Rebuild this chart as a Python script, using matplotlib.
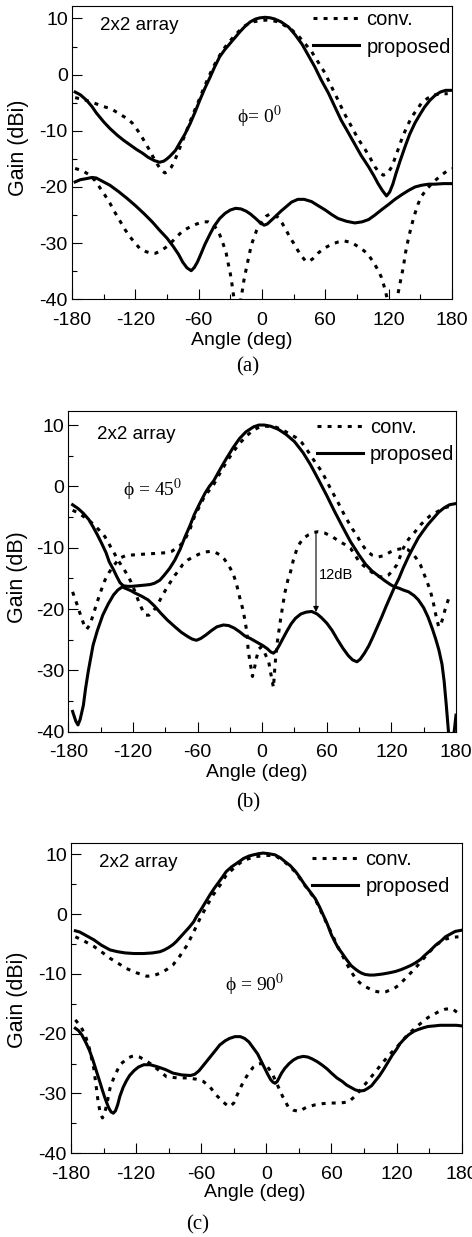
import numpy as np
import matplotlib.pyplot as plt
from matplotlib.ticker import MultipleLocator

plt.rcParams['font.family'] = ['Liberation Sans', 'DejaVu Sans']
plt.rcParams['mathtext.fontset'] = 'stix'
plt.rcParams['axes.unicode_minus'] = False

# ---------------- (a) phi = 0 ----------------
a_co_prop_ang = [-177, -172, -166, -161, -157, -150, -144, -137, -131, -125, -119, -113, -108, -102, -97, -93, -90, -87,
                 -82, -78, -73, -68, -63, -59, -54, -49, -45, -40, -35, -30, -25, -21, -16, -11, -6, -2, 3, 8, 12,
                 18, 25, 31, 38, 44, 50, 56, 63, 69, 75, 82, 88, 94, 101, 106, 110, 114, 118, 121, 124, 127,
                 131, 136, 140, 145, 150, 154, 159, 164, 169, 174, 180]
a_co_prop = [-3.1, -3.6, -4.6, -5.7, -6.8, -8.4, -9.6, -10.8, -11.7, -12.5, -13.3, -14.0, -14.7, -15.3, -15.6, -15.4, -15.0, -14.5,
             -13.5, -12.2, -10.6, -8.7, -6.5, -4.6, -2.4, -0.4, 1.3, 3.2, 4.5, 5.6, 6.7, 7.6, 8.6, 9.4, 9.9, 10.1, 10.2, 10.1, 9.9,
             9.4, 8.5, 7.2, 5.4, 3.4, 1.4, -0.9, -3.3, -5.7, -8.1, -10.4, -12.4, -14.4, -16.4, -18.0, -19.4, -20.6, -21.6, -20.9, -19.5, -17.6,
             -15.3, -12.6, -10.6, -8.6, -7.0, -5.8, -4.6, -3.7, -3.1, -2.8, -2.8]

a_co_conv_ang = [-177, -170, -163, -157, -152, -146, -141, -135, -128, -123, -119, -115, -111, -107, -103, -99, -95, -92,
                 -89, -86, -84, -80, -75, -70, -65, -60, -56, -51, -46, -41, -37, -32, -27, -22, -18, -13, -8, -2,
                 4, 10, 15, 21, 28, 34, 40, 47, 53, 60, 66, 72, 78, 85, 91, 98, 103, 107, 111, 115, 119, 123,
                 127, 132, 137, 142, 147, 151, 157, 164, 170, 176]
a_co_conv = [-4.1, -4.4, -4.8, -5.2, -5.6, -5.9, -6.3, -7.0, -7.8, -8.6, -9.6, -10.7, -12.0, -13.3, -14.7, -16.0, -17.1, -17.5,
             -17.2, -16.5, -15.8, -14.1, -11.7, -9.3, -6.9, -4.7, -2.8, -0.6, 1.4, 3.1, 4.4, 5.6, 6.7, 7.7, 8.5, 9.0, 9.4, 9.6,
             9.7, 9.6, 9.4, 8.8, 8.0, 7.0, 5.7, 4.1, 2.3, 0.2, -2.2, -4.5, -6.9, -9.3, -11.4, -13.4, -15.0, -16.4, -17.4, -17.9, -17.6, -16.4,
             -14.4, -11.7, -9.4, -7.5, -6.2, -5.1, -4.2, -3.6, -3.4, -3.4]

a_x_prop_ang = [-177, -172, -166, -161, -157, -151, -144, -136, -128, -120, -112, -104, -97, -90, -84, -79, -75, -71,
                -67, -64, -61, -58, -54, -49, -45, -40, -35, -30, -25, -20, -15, -11, -6, -2, 2, 5, 9, 13, 18,
                23, 28, 34, 40, 47, 53, 60, 66, 72, 80, 88, 95, 101, 107, 113, 120, 126, 133, 139, 145, 151,
                158, 164, 172, 180]
a_x_prop = [-19.1, -18.7, -18.5, -18.3, -18.4, -19.0, -19.7, -20.8, -22.0, -23.3, -24.7, -26.2, -27.7, -29.1, -30.6, -32.0, -33.4, -34.4,
            -34.9, -34.3, -33.3, -32.0, -30.2, -28.3, -26.9, -25.6, -24.7, -24.1, -23.8, -23.9, -24.3, -24.8, -25.6, -26.3, -26.8, -26.6, -25.9, -25.2, -24.3,
            -23.5, -22.7, -22.2, -22.2, -22.6, -23.3, -24.1, -24.9, -25.6, -26.1, -26.4, -26.2, -25.8, -25.0, -24.1, -23.1, -22.2, -21.3, -20.6, -20.0, -19.7,
            -19.5, -19.5, -19.4, -19.4]

a_x_conv_ang = [-177, -170, -163, -158, -154, -149, -144, -140, -135, -130, -125, -120, -116, -110, -105, -101, -96, -90,
                -85, -81, -76, -71, -65, -59, -55, -51, -47, -43, -40, -37, -34, -32, -30, -28.5, -26, -23, -20.5, -19,
                -17, -14.5, -12, -10, -7, -5, -2, 1, 4, 7.5, 11, 15, 19, 23, 26, 30, 34, 38, 41, 44, 48, 53,
                59, 66, 72, 78, 85, 91, 97, 102, 106, 110, 113, 115, 117, 118.5, 123, 127.5, 129, 131.5, 134, 136,
                138.5, 141.5, 145, 148, 151, 156, 161, 165, 170, 175, 180]
a_x_conv = [-16.7, -17.1, -17.9, -18.9, -20.0, -21.4, -22.9, -24.3, -25.9, -27.5, -28.9, -30.0, -30.9, -31.5, -31.8, -31.8, -31.4, -30.6,
            -29.7, -28.9, -28.0, -27.4, -26.8, -26.4, -26.2, -26.2, -26.6, -27.4, -28.5, -30.0, -31.7, -33.6, -35.4, -37.2, -40.5, -45.0, -40.5, -38.9,
            -36.5, -34.2, -32.0, -30.3, -28.7, -27.7, -26.7, -25.9, -25.2, -24.8, -25.0, -25.4, -26.4, -27.7, -28.8, -30.0, -31.3, -32.4, -33.1, -33.3, -32.8, -31.8,
            -30.9, -30.2, -29.8, -29.6, -29.9, -30.6, -31.4, -32.4, -33.5, -34.8, -36.0, -37.2, -38.5, -39.8, -46.0, -40.2, -38.9, -36.5, -34.2, -31.7,
            -29.4, -27.0, -24.7, -23.0, -21.7, -20.4, -19.4, -18.7, -17.9, -17.2, -16.7]

# ---------------- (b) phi = 45 ----------------
b_co_prop_ang = [-176, -171, -166, -161, -157, -153, -149, -145, -142, -138, -135, -132, -129, -125, -121, -115, -109, -104,
                 -100, -95, -91, -86, -81, -76, -72, -67, -63, -58, -53, -49, -45, -39, -33, -27, -21, -15, -8, -3,
                 2, 8, 15, 22, 30, 38, 45, 52, 60, 67, 75, 82, 90, 96, 102, 108, 114, 119, 123, 127, 131,
                 136, 141, 145, 149, 154, 159, 164, 169, 174, 180]
b_co_prop = [-3.0, -3.6, -4.4, -5.4, -6.6, -7.9, -9.3, -10.8, -12.3, -13.6, -14.7, -15.7, -16.2, -16.3, -16.3, -16.2, -16.1, -16.0,
             -15.8, -15.3, -14.5, -13.4, -12.0, -10.2, -8.4, -6.4, -4.6, -2.8, -1.1, 0.0, 0.9, 2.8, 4.6, 6.3, 7.8, 8.9, 9.7, 10.0,
             10.0, 9.8, 9.3, 8.5, 7.3, 5.5, 3.5, 1.2, -1.5, -4.0, -6.7, -9.0, -11.2, -12.7, -13.8, -14.6, -15.4, -16.0, -16.4, -15.0, -13.3,
             -11.4, -9.7, -8.4, -7.4, -6.2, -5.2, -4.2, -3.5, -3.0, -2.8]

b_x_prop_ang = [-176, -173, -171, -169, -166, -164, -161.5, -159, -157, -153, -148, -143, -138, -134, -130, -126, -122, -118,
                -112, -106, -100, -94, -88, -81, -75, -69, -65, -61, -57, -52, -47, -42, -36, -31, -26, -21, -16, -11,
                -7, -3, 1, 5, 8, 10.5, 13, 16, 19, 23, 27, 31, 36, 41, 46, 51, 55, 60, 65, 70, 75, 80,
                84, 88, 91, 95, 99, 103, 107, 111, 115, 119, 123, 127, 131, 136, 141, 145, 150, 154, 158, 161,
                164, 167, 169, 171, 173, 175, 178, 180]
b_x_prop = [-36.7, -38.3, -38.9, -38.0, -35.7, -33.0, -30.2, -27.8, -25.9, -23.5, -21.0, -19.2, -17.7, -16.9, -16.4, -16.7, -17.0, -17.4,
            -17.9, -18.5, -19.5, -20.7, -21.8, -22.9, -23.8, -24.5, -24.9, -25.1, -24.8, -24.2, -23.5, -22.9, -22.6, -22.7, -23.1, -23.7, -24.4, -24.8,
            -25.2, -25.6, -26.0, -26.5, -27.0, -27.2, -26.8, -25.9, -24.9, -23.6, -22.4, -21.5, -20.8, -20.5, -20.4, -20.8, -21.4, -22.3, -23.5, -25.0, -26.4, -27.6,
            -28.3, -28.6, -28.2, -27.2, -26.0, -24.5, -22.9, -21.3, -19.6, -18.0, -16.4, -16.6, -16.9, -17.2, -17.8, -18.5, -19.8, -21.3, -23.2, -24.8,
            -26.6, -29.0, -31.8, -35.7, -40.0, -43.0, -40.5, -37.3]

b_co_conv_ang = [-176, -172, -168, -165, -163, -160, -157, -154, -150, -146, -142, -138.5, -135, -132, -127, -121.5, -114, -105,
                 -96, -88, -84, -80, -76, -72, -67, -63, -58, -54, -49, -45, -39, -33, -27, -21, -14, -8, -2, 3,
                 8, 12, 18, 25, 31, 37, 43, 49, 55, 59, 63, 67, 71, 75, 80, 84, 88, 92, 97, 102, 108,
                 113, 119, 125, 131, 135, 139, 143, 147, 151, 156, 159, 162, 164, 166, 168, 170, 173, 175]
b_co_conv = [-17.2, -19.2, -21.3, -22.8, -23.3, -22.6, -21.0, -19.3, -17.2, -15.3, -14.0, -13.1, -12.3, -11.7, -11.3, -11.2, -11.1, -11.0,
             -10.9, -10.8, -10.6, -10.1, -9.6, -8.8, -7.0, -5.0, -3.2, -1.8, -0.6, 0.3, 2.2, 4.0, 5.6, 7.0, 8.3, 9.2, 9.7, 9.8,
             9.8, 9.7, 9.3, 8.6, 8.0, 7.1, 5.6, 4.0, 2.5, 1.2, -0.2, -1.5, -2.8, -4.2, -5.8, -7.0, -8.0, -9.3, -10.5, -11.2, -11.5,
             -11.3, -10.7, -10.3, -10.1, -10.3, -10.8, -11.7, -12.8, -14.6, -16.9, -19.0, -21.6, -22.9, -22.5, -21.3, -20.0, -18.4, -17.5]

b_x_conv_ang = [-176, -171, -166, -161, -156, -151, -146, -143, -140, -137, -134, -131, -128, -125, -122, -118, -114, -111,
                -108, -105, -102, -98, -93, -87, -81, -77, -74, -69, -64, -58, -53, -48, -44, -39, -35, -31, -27, -24,
                -21, -18, -16, -14, -13, -11, -9, -7, -5, -3, -1, 2, 4, 6, 8, 10.5, 12, 14, 17, 21, 24,
                26, 29, 33, 38, 43, 48, 52, 58, 65, 72, 77, 82, 86, 89, 94, 99, 104, 108, 113, 117, 121,
                125, 128, 131, 136, 142, 147, 152, 156, 161, 166, 171, 176]
b_x_conv = [-3.9, -4.3, -4.9, -5.5, -6.3, -7.2, -8.2, -9.1, -10.1, -11.0, -12.0, -12.8, -13.6, -14.5, -15.5, -17.2, -19.1, -20.2,
            -21.0, -21.0, -20.5, -19.6, -17.9, -16.1, -14.5, -13.6, -12.8, -12.0, -11.5, -11.0, -10.7, -10.6, -10.7, -11.2, -11.9, -12.9, -14.2, -15.8,
            -18.0, -20.0, -21.8, -24.0, -26.7, -28.9, -31.0, -29.5, -27.8, -26.5, -26.2, -27.0, -27.8, -28.5, -30.5, -32.8, -29.0, -25.5, -21.8, -17.4, -15.2,
            -14.2, -12.0, -9.8, -8.5, -7.9, -7.5, -7.4, -7.6, -8.2, -9.0, -9.5, -10.1, -11.1, -12.0, -12.9, -13.6, -14.3, -14.7, -14.8, -14.5, -13.8,
            -12.8, -11.5, -10.1, -8.6, -7.4, -6.3, -5.4, -4.8, -4.3, -3.8, -3.4, -3.2]

# ---------------- (c) phi = 90 ----------------
c_co_prop_ang = [-176, -172, -168, -164, -159, -152, -144, -137, -130, -122, -113, -105, -98, -94, -90, -86, -83, -79, -75, -71,
                 -67, -64, -60, -56, -52, -48, -44, -40, -37, -32, -28, -24, -21, -16, -12, -7, -3, 2, 8, 13,
                 17, 22, 27, 31, 35, 40, 45, 49, 52, 56, 60, 63, 66, 70, 73, 78, 82, 85, 88, 91, 95, 99,
                 104, 108, 114, 119, 124, 128, 133, 137, 142, 146, 151, 156, 161, 165, 170, 174, 180]
c_co_prop = [-2.8, -3.0, -3.4, -3.8, -4.3, -5.2, -6.0, -6.3, -6.5, -6.6, -6.6, -6.5, -6.3, -6.0, -5.6, -5.1, -4.6, -3.8, -3.0, -2.2,
             -1.3, -0.3, 0.8, 2.0, 3.2, 4.3, 5.3, 6.3, 7.1, 7.9, 8.4, 8.9, 9.3, 9.7, 9.9, 10.1, 10.2, 10.1, 9.9, 9.4,
             8.8, 8.1, 7.1, 6.1, 5.0, 3.8, 2.6, 1.2, 0.0, -1.6, -3.5, -4.6, -5.6, -6.6, -7.4, -8.6, -9.2, -9.6, -9.9, -10.1, -10.2, -10.2,
             -10.1, -10.0, -9.8, -9.6, -9.3, -9.0, -8.6, -8.2, -7.6, -6.9, -6.1, -5.2, -4.5, -3.8, -3.3, -2.9, -2.7]

c_co_conv_ang = [-176, -168, -159, -152, -144, -136, -129, -120, -110, -104, -98, -92, -86, -80, -73, -67, -61, -55, -49, -42,
                 -37, -28, -21, -10, 0, 8, 17, 27, 35, 45, 52, 60, 66, 70, 74, 78, 82, 85, 88, 94, 100, 106,
                 110, 114, 118, 122, 129, 137, 146, 156, 165, 171, 177]
c_co_conv = [-3.8, -4.5, -5.4, -6.3, -7.4, -8.3, -9.1, -9.8, -10.4, -10.3, -9.9, -9.3, -8.5, -7.1, -5.2, -3.0, -0.7, 1.3, 3.2, 5.0,
             6.5, 8.0, 9.0, 9.6, 9.8, 9.8, 8.7, 7.0, 4.9, 2.5, -0.2, -3.2, -5.5, -6.9, -8.3, -9.6, -10.7, -11.3, -11.8, -12.4, -12.9, -13.1,
             -13.0, -12.7, -12.4, -11.9, -10.6, -9.1, -7.2, -5.2, -4.2, -3.9, -3.8]

c_x_prop_ang = [-176, -173, -170, -166, -163, -160, -156, -153, -151, -149, -147, -145, -143, -141, -139, -137, -135, -132, -129, -126,
                -122, -118, -113, -107, -101, -93, -86, -78, -70, -66, -62, -58, -54, -50, -46, -43, -38, -34, -29, -24,
                -20, -16, -12, -8, -5, -2, 1, 4, 6, 8, 10, 12, 14, 17, 21, 25, 29, 34, 38, 42, 47, 51,
                56, 60, 65, 70, 74, 78, 82, 86, 90, 93, 97, 100, 104, 108, 112, 116, 120, 123, 127, 131,
                136, 140, 145, 149, 155, 160, 165, 170, 175, 180]
c_x_prop = [-19.1, -19.5, -20.2, -21.6, -22.8, -24.3, -26.6, -28.3, -29.5, -30.6, -31.6, -32.5, -33.1, -33.3, -32.9, -31.9, -30.5, -29.0, -27.9, -27.0,
            -26.2, -25.6, -25.2, -25.2, -25.5, -26.0, -26.6, -26.9, -27.0, -26.8, -26.2, -25.3, -24.4, -23.5, -22.6, -21.9, -21.2, -20.8, -20.5, -20.5,
            -20.8, -21.4, -22.4, -23.4, -24.5, -25.6, -26.7, -27.7, -28.1, -28.3, -28.0, -27.3, -26.6, -25.8, -25.0, -24.4, -24.0, -23.8, -23.9, -24.2, -24.7, -25.2,
            -25.9, -26.6, -27.4, -28.0, -28.6, -29.0, -29.4, -29.6, -29.5, -29.2, -28.7, -28.0, -27.1, -26.0, -24.8, -23.6, -22.6, -21.7, -20.9, -20.2,
            -19.6, -19.3, -19.0, -18.8, -18.7, -18.6, -18.6, -18.6, -18.6, -18.7]

c_x_conv_ang = [-176, -171, -167, -163, -159, -157, -155, -153, -151, -149, -147, -144, -141, -139, -135, -131, -128, -124, -121, -117,
                -114, -107, -100, -92, -82, -73, -65, -58, -52, -46, -40, -36, -33.5, -30, -27, -24, -21, -16, -12, -8,
                -5, 0, 5, 10, 15, 20, 25, 30, 37, 45, 52, 60, 68, 76, 82, 88, 95, 103, 112, 122,
                130, 140, 149, 159, 165, 171, 177]
c_x_conv = [-17.7, -18.8, -20.2, -22.5, -25.8, -28.5, -31.4, -33.3, -34.1, -33.3, -31.8, -29.1, -27.6, -26.8, -25.2, -24.6, -24.1, -23.8, -23.7, -23.9,
            -24.2, -25.0, -26.0, -27.2, -27.4, -27.4, -27.6, -28.0, -28.9, -30.3, -31.4, -32.0, -32.2, -31.6, -30.3, -29.1, -28.0, -26.5, -25.6, -25.1,
            -25.0, -25.3, -26.5, -28.5, -30.5, -32.2, -32.8, -33.0, -32.3, -31.9, -31.7, -31.6, -31.6, -31.4, -30.4, -29.1, -27.6, -25.8, -23.8, -21.9,
            -20.2, -18.6, -17.3, -16.3, -15.9, -15.8, -16.6]

dots = (0, (1.3, 2.0))
lw = 2.2
serif = ['Liberation Serif', 'DejaVu Serif']


def setup(ax, ytop, ylab):
    ax.set_xlim(-180, 180)
    ax.set_ylim(-40, ytop)
    ax.xaxis.set_major_locator(MultipleLocator(60))
    ax.xaxis.set_minor_locator(MultipleLocator(30))
    ax.yaxis.set_major_locator(MultipleLocator(10))
    ax.yaxis.set_minor_locator(MultipleLocator(5))
    ax.tick_params(which='both', direction='in', top=False, right=False, width=0.8, labelsize=14)
    ax.tick_params(which='major', length=7)
    ax.tick_params(which='minor', length=3.6)
    ax.tick_params(axis='x', pad=9)
    ax.tick_params(axis='y', pad=3)
    for s in ax.spines.values():
        s.set_linewidth(0.8)
    ax.set_xlabel('Angle (deg)', fontsize=14)
    ax.set_ylabel(ylab, fontsize=15.5)
    ax.xaxis.label.set_verticalalignment('center')
    ax.yaxis.label.set_verticalalignment('center')


def add_legend(ax, x, y):
    ax.legend(loc='upper left', bbox_to_anchor=(x, y), frameon=False, fontsize=14.5,
              borderpad=0, borderaxespad=0, handlelength=2.3, handletextpad=0.35, labelspacing=0.4)


fig = plt.figure(figsize=(4.72, 12.37), dpi=100)

# panel (a)
ax1 = fig.add_axes([0.1525, 0.758, 0.805, 0.2371])
ax1.plot(a_co_conv_ang, a_co_conv, 'k', lw=lw, ls=dots, label='conv.')
ax1.plot(a_co_prop_ang, a_co_prop, 'k-', lw=lw, label='proposed')
ax1.plot(a_x_conv_ang, a_x_conv, 'k', lw=lw, ls=dots)
ax1.plot(a_x_prop_ang, a_x_prop, 'k-', lw=lw)
setup(ax1, 12.2, 'Gain (dBi)')
ax1.xaxis.set_label_coords(0.447, -0.139)
ax1.yaxis.set_label_coords(-0.142, 0.516)
ax1.text(-153.5, 8.8, '2x2 array', fontsize=13.5, va='center', ha='left')
ax1.text(-23.7, -7.6, 'ϕ= 0$^0$', fontsize=14, va='center', ha='left', family=serif)
add_legend(ax1, 0.634, 0.985)
fig.text(0.525, 0.7033, '(a)', fontsize=15, ha='center', va='center', family=serif)

# panel (b)
ax2 = fig.add_axes([0.1447, 0.4085, 0.8214, 0.2593])
ax2.plot(b_co_conv_ang, b_co_conv, 'k', lw=lw, ls=dots, label='conv.')
ax2.plot(b_co_prop_ang, b_co_prop, 'k-', lw=lw, label='proposed')
ax2.plot(b_x_conv_ang, b_x_conv, 'k', lw=lw, ls=dots)
ax2.plot(b_x_prop_ang, b_x_prop, 'k-', lw=lw)
setup(ax2, 12.3, 'Gain (dB)')
ax2.xaxis.set_label_coords(0.487, -0.126)
ax2.yaxis.set_label_coords(-0.13, 0.483)
ax2.text(-153.4, 8.4, '2x2 array', fontsize=13.5, va='center', ha='left')
ax2.text(-129.2, -0.6, 'ϕ = 45$^0$', fontsize=14, va='center', ha='left', family=serif)
ax2.annotate('', xy=(50, -20.5), xytext=(50, -7.4),
             arrowprops=dict(arrowstyle='-|>', lw=0.8, color='black', mutation_scale=8, shrinkA=0, shrinkB=0))
ax2.text(52.3, -14.5, '12dB', fontsize=10.5, va='center', ha='left')
add_legend(ax2, 0.641, 0.978)
fig.text(0.525, 0.3508, '(b)', fontsize=15, ha='center', va='center', family=serif)

# panel (c)
ax3 = fig.add_axes([0.1504, 0.0677, 0.8278, 0.2509])
ax3.plot(c_co_conv_ang, c_co_conv, 'k', lw=lw, ls=dots, label='conv.')
ax3.plot(c_co_prop_ang, c_co_prop, 'k-', lw=lw, label='proposed')
ax3.plot(c_x_conv_ang, c_x_conv, 'k', lw=lw, ls=dots)
ax3.plot(c_x_prop_ang, c_x_prop, 'k-', lw=lw)
setup(ax3, 11.9, 'Gain (dBi)')
ax3.xaxis.set_label_coords(0.471, -0.128)
ax3.yaxis.set_label_coords(-0.138, 0.494)
ax3.text(-154.2, 8.7, '2x2 array', fontsize=13.5, va='center', ha='left')
ax3.text(-38.1, -11.9, 'ϕ = 90$^0$', fontsize=14, va='center', ha='left', family=serif)
add_legend(ax3, 0.617, 0.978)
fig.text(0.4195, 0.0097, '(c)', fontsize=15, ha='center', va='center', family=serif)

fig.savefig('out.png', dpi=100)
